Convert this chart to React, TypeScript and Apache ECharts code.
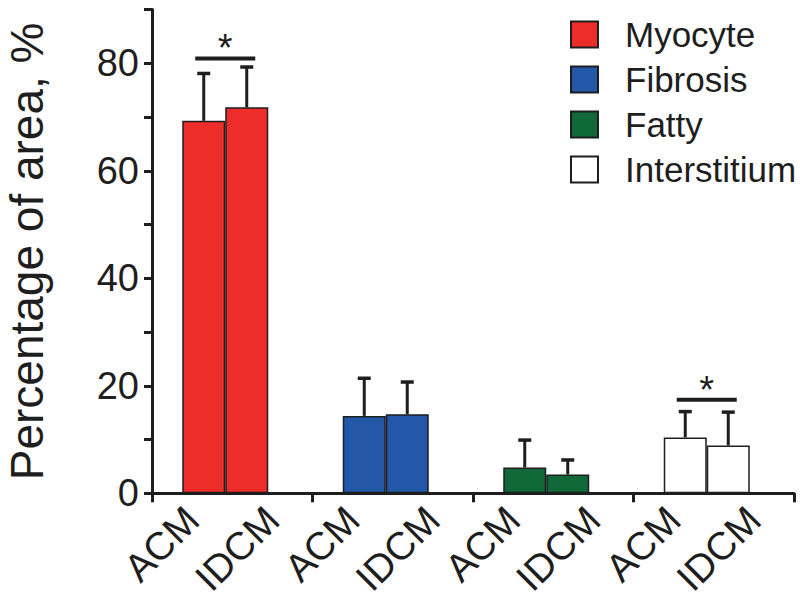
import React, { useEffect, useRef } from "react";
import * as echarts from "echarts";

const groups = ["Myocyte", "Fibrosis", "Fatty", "Interstitium"];
const cohorts = ["ACM", "IDCM"];
const tickLabels = ["ACM", "IDCM", "ACM", "IDCM", "ACM", "IDCM", "ACM", "IDCM"];
const acmMean = [69.3, 14.4, 4.8, 10.4];
const acmErr = [8.8, 7.0, 5.1, 4.8];
const idcmMean = [71.8, 14.7, 3.5, 8.9];
const idcmErr = [7.5, 6.0, 2.7, 6.2];
const sigGroups = [0, 3];
const sigLevels = [80.9, 17.4];
const groupColors = ["#EC2D2A", "#2357A8", "#11693A", "#FFFFFF"];

const FONT = "'Liberation Sans', Arial, Helvetica, sans-serif";
const BAR_W = 43;
const PAD_W = 14; // empty spacer slot so the pair sits slightly left of the group centre
const SHIFT = PAD_W / 2;
const INK = "#1e1e1e";

export default function App() {
  const ref = useRef<HTMLDivElement>(null);
  useEffect(() => {
    if (!ref.current) return;
    const chart = echarts.init(ref.current, null, { renderer: "svg" });
    const means = [acmMean, idcmMean];
    const errs = [acmErr, idcmErr];

    const barSeries: any[] = [];
    cohorts.forEach((c, ci) => {
      groups.forEach((g, gi) => {
        barSeries.push({
          type: "bar",
          name: g,
          stack: c,
          xAxisIndex: 0,
          yAxisIndex: 0,
          barWidth: BAR_W,
          barGap: "0%",
          data: groups.map((_, i) => (i === gi ? means[ci][gi] : "-")),
          itemStyle: {
            color: groupColors[gi],
            borderColor: INK,
            borderWidth: 1.5,
          },
          z: 2,
        });
      });
    });
    barSeries.push({
      type: "bar",
      name: "spacer",
      stack: "spacer",
      xAxisIndex: 0,
      yAxisIndex: 0,
      barWidth: PAD_W,
      barGap: "0%",
      data: groups.map(() => "-"),
      itemStyle: { color: "transparent" },
    });

    const errData: any[] = [];
    cohorts.forEach((_, ci) => {
      groups.forEach((_, gi) => {
        errData.push([gi, means[ci][gi], errs[ci][gi], ci]);
      });
    });

    const sigData = sigGroups.map((g, i) => [g, sigLevels[i]]);

    const option: any = {
      animation: false,
      backgroundColor: "#ffffff",
      textStyle: { fontFamily: FONT },
      grid: {
        left: 152,
        right: 6,
        top: 9.5,
        bottom: 118.7,
        containLabel: false,
        outerBoundsMode: "none",
      },
      legend: {
        data: groups,
        orient: "vertical",
        left: 570,
        top: 17,
        padding: 0,
        icon: "rect",
        itemWidth: 27,
        itemHeight: 26,
        itemGap: 10,
        selectedMode: false,
        textStyle: {
          fontFamily: FONT,
          fontSize: 35,
          color: INK,
          lineHeight: 35,
          padding: [0, 0, 0, 22],
        },
      },
      xAxis: [
        {
          type: "category",
          data: groups,
          axisLine: { lineStyle: { color: INK, width: 3 } },
          axisTick: { show: true, length: 9, lineStyle: { color: INK, width: 3 } },
          axisLabel: { show: false },
          splitLine: { show: false },
        },
        {
          type: "category",
          data: tickLabels,
          position: "bottom",
          axisLine: { show: false },
          axisTick: { show: false },
          axisLabel: {
            rotate: 45,
            fontSize: 39,
            fontFamily: FONT,
            color: INK,
            margin: 20,
            interval: 0,
          },
          splitLine: { show: false },
        },
      ],
      yAxis: {
        type: "value",
        min: 0,
        max: 90,
        interval: 10,
        name: "Percentage of area, %",
        nameLocation: "middle",
        nameGap: 102,
        nameTextStyle: { fontSize: 46, color: INK, fontFamily: FONT },
        axisLine: { show: true, lineStyle: { color: INK, width: 3 } },
        axisTick: { show: true, length: 8, lineStyle: { color: INK, width: 3 } },
        axisLabel: {
          fontSize: 38,
          color: INK,
          fontFamily: FONT,
          margin: 13,
          formatter: (v: number) => (v % 20 === 0 ? String(v) : ""),
        },
        splitLine: { show: false },
      },
      series: [
        ...barSeries,
        {
          type: "custom",
          name: "err",
          xAxisIndex: 0,
          yAxisIndex: 0,
          data: errData,
          z: 5,
          encode: { x: 0, y: 1 },
          renderItem: (params: any, api: any) => {
            const gi = api.value(0);
            const m = api.value(1);
            const e = api.value(2);
            const ci = api.value(3);
            const base = api.coord([gi, m]);
            const top = api.coord([gi, m + e]);
            const cx = base[0] - SHIFT + (ci === 0 ? -1 : 1) * (BAR_W / 2);
            return {
              type: "group",
              children: [
                {
                  type: "line",
                  shape: { x1: cx, y1: base[1], x2: cx, y2: top[1] },
                  style: { stroke: INK, lineWidth: 3 },
                },
                {
                  type: "line",
                  shape: { x1: cx - 6.5, y1: top[1], x2: cx + 6.5, y2: top[1] },
                  style: { stroke: INK, lineWidth: 3.5 },
                },
              ],
            };
          },
        },
        {
          type: "custom",
          name: "sig",
          xAxisIndex: 0,
          yAxisIndex: 0,
          data: sigData,
          z: 5,
          encode: { x: 0, y: 1 },
          renderItem: (params: any, api: any) => {
            const p = api.coord([api.value(0), api.value(1)]);
            const cx = p[0] - SHIFT;
            return {
              type: "group",
              children: [
                {
                  type: "line",
                  shape: { x1: cx - 30, y1: p[1], x2: cx + 30, y2: p[1] },
                  style: { stroke: INK, lineWidth: 4 },
                },
                {
                  type: "text",
                  style: {
                    x: cx,
                    y: p[1] - 10,
                    text: "*",
                    fontSize: 38,
                    fontFamily: FONT,
                    fill: INK,
                    align: "center",
                    verticalAlign: "middle",
                  },
                },
              ],
            };
          },
        },
      ],
    };
    chart.setOption(option);
    return () => chart.dispose();
  }, []);
  return (
    <div
      ref={ref}
      style={{ position: "fixed", left: 0, top: 0, width: 800, height: 612, background: "#fff" }}
    />
  );
}
